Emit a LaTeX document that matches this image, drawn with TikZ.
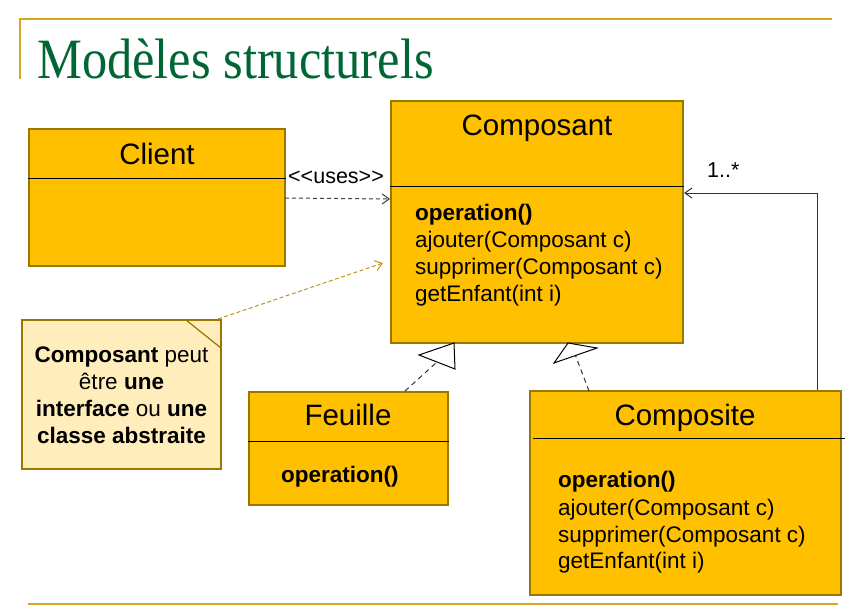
\documentclass[tikz,border=0pt]{standalone}
\usepackage{fontspec}
\setmainfont{Liberation Sans}
\newfontfamily\titlefont{Liberation Serif}
\usetikzlibrary{arrows.meta}
\definecolor{umlfill}{RGB}{255,192,0}
\definecolor{umlborder}{RGB}{153,119,0}
\definecolor{notefill}{RGB}{255,238,188}
\definecolor{goldline}{RGB}{218,165,32}
\definecolor{titlegreen}{RGB}{0,102,51}
\tikzset{
  umlbox/.style={draw=umlborder, line width=2.2pt, fill=umlfill, inner sep=0pt, minimum width=#1},
  notebox/.style={draw=umlborder, line width=2.2pt, fill=notefill, inner sep=0pt},
  divider/.style={black, line width=1pt},
  classtitle/.style={anchor=base, inner sep=0pt, font=\fontsize{29.5}{35}\selectfont},
  method/.style={anchor=base west, inner sep=0pt, font=\fontsize{22.5}{27}\selectfont},
  notetext/.style={anchor=base, inner sep=0pt, font=\fontsize{22.5}{27}\selectfont},
  lbl/.style={anchor=base west, inner sep=0pt, font=\fontsize{21.5}{26}\selectfont},
  openarrow/.style={-{Straight Barb[length=7pt,width=10pt,line width=1pt]}},
  usesarrow/.style={openarrow, dashed, dash pattern=on 4pt off 3pt, line width=1pt, black!75},
  notearrow/.style={openarrow, dash pattern=on 4pt off 2.5pt, line width=1pt, goldline!90!black},
  realize/.style={dash pattern=on 5pt off 4pt, line width=1pt, black!80},
  tri/.style={draw=black, line width=1pt, fill=white, line join=miter},
  assoc/.style={openarrow, line width=1pt, black!80},
  frame/.style={goldline, line width=2.2pt}
}
\begin{document}
\begin{tikzpicture}[x=1pt,y=-1pt]
\useasboundingbox (0,0) rectangle (867,614);
\fill[white] (0,0) rectangle (867,614);

% frame lines
\coordinate (ftl) at (20,19);
\coordinate (ftr) at (832,19);
\coordinate (fbl) at (20,79);
\coordinate (bbl) at (28,604);
\coordinate (bbr) at (838,604);
\draw[frame] (fbl) -- (ftl) -- (ftr);
\draw[frame] (bbl) -- (bbr);

% title
\node[anchor=base west, inner sep=0pt, text=titlegreen] (title) at (37,78)
  {\scalebox{0.885}[1]{\titlefont\fontsize{57}{60}\selectfont Modèles structurels}};

% boxes
\node[umlbox=256pt, minimum height=137pt] (client) at (157,197.5) {};
\node[umlbox=292pt, minimum height=242pt] (composant) at (537,222) {};
\node[umlbox=199pt, minimum height=113pt] (feuille) at (348.5,448.5) {};
\node[umlbox=311pt, minimum height=204pt] (composite) at (685.5,493) {};
\node[notebox, minimum width=199pt, minimum height=149pt] (note) at (121.5,394.5) {};

% dividers
\draw[divider] (client.west |- 0,178) -- (client.east |- 0,178);
\draw[divider] (composant.west |- 0,186) -- (composant.east |- 0,186);
\draw[divider] (feuille.west |- 0,441) -- (feuille.east |- 0,441);
\coordinate (cdl) at (533,438);
\coordinate (cdr) at (845,438);
\draw[divider] (cdl) -- (cdr);

% note folded corner
\coordinate (fold1) at (186,320);
\coordinate (fold2) at (221,348);
\draw[umlborder, line width=1.2pt] (fold1) -- (fold2);

% titles
\node[classtitle] (tclient) at (157,164) {Client};
\node[classtitle] (tcomposant) at (537,135) {Composant};
\node[classtitle] (tfeuille) at (348,425) {Feuille};
\node[classtitle] (tcomposite) at (685,425) {Composite};

% methods
\node[method] (m1) at (415,220) {\bfseries operation()};
\node[method] (m2) at (415,247) {ajouter(Composant c)};
\node[method] (m3) at (415,274) {supprimer(Composant c)};
\node[method] (m4) at (415,301) {getEnfant(int i)};

\node[method] (f1) at (281,482) {\bfseries operation()};

\node[method] (c1) at (558,487) {\bfseries operation()};
\node[method] (c2) at (558,515) {ajouter(Composant c)};
\node[method] (c3) at (558,542) {supprimer(Composant c)};
\node[method] (c4) at (558,568) {getEnfant(int i)};

% note text
\node[notetext] (n1) at (121.5,362) {\bfseries Composant\mdseries{} peut};
\node[notetext] (n2) at (121.5,389) {être \bfseries une};
\node[notetext] (n3) at (121.5,416) {\bfseries interface\mdseries{} ou \bfseries une};
\node[notetext] (n4) at (121.5,443) {\bfseries classe abstraite};

% labels
\node[lbl, anchor=base] (uses) at (336,183) {<{}<uses>{}>};
\node[lbl] (mult) at (707,177) {1..*};

% uses dependency
\coordinate (us) at (285,198);
\coordinate (ue) at (390,199);
\draw[usesarrow] (us) -- (ue);

% note connector
\coordinate (ns) at (218,319);
\coordinate (ne) at (383,263);
\draw[notearrow] (ns) -- (ne);

% Feuille realization
\coordinate (fs) at (405,391);
\coordinate (fb) at (437,362);
\coordinate (fa) at (454,343);
\coordinate (fl) at (419,355);
\coordinate (fr) at (455,369);
\draw[realize] (fs) -- (fb);
\draw[tri] (fa) -- (fl) -- (fr) -- cycle;

% Composite realization
\coordinate (cs) at (589,391);
\coordinate (cb) at (575.5,355.5);
\coordinate (ca) at (568,343);
\coordinate (cl) at (597,348);
\coordinate (cr) at (554,363);
\draw[realize] (cs) -- (cb);
\draw[tri] (ca) -- (cl) -- (cr) -- cycle;

% association composite -> composant
\coordinate (ax) at (817,0);
\coordinate (ay) at (0,193);
\draw[assoc] (composite.north -| ax) |- (composant.east |- ay);
\end{tikzpicture}
\end{document}
